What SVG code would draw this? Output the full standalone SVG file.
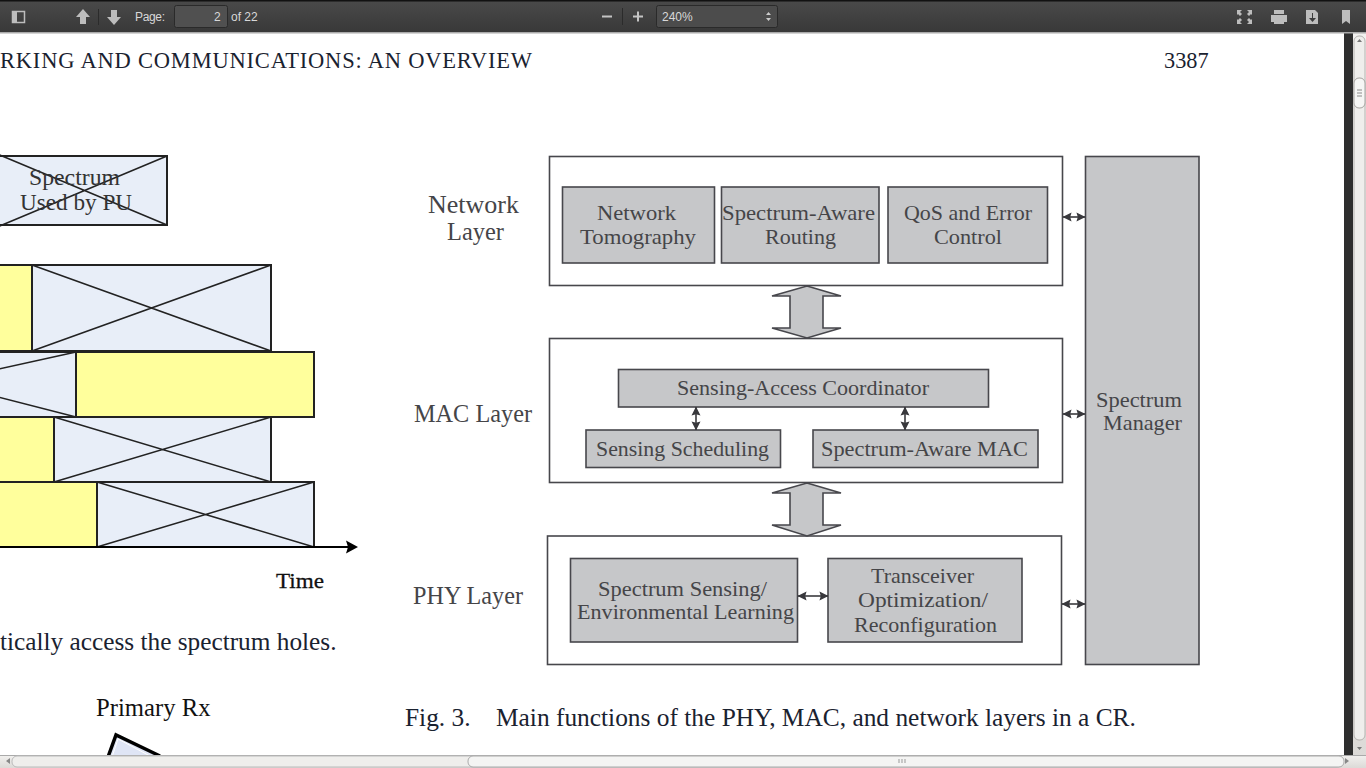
<svg xmlns="http://www.w3.org/2000/svg" width="1366" height="768" viewBox="0 0 1366 768">
<defs>
<linearGradient id="tb" x1="0" y1="0" x2="0" y2="1"><stop offset="0" stop-color="#4a4a4a"/><stop offset="1" stop-color="#383838"/></linearGradient>
<linearGradient id="sb" x1="0" y1="0" x2="0" y2="1"><stop offset="0" stop-color="#f2f1ef"/><stop offset="1" stop-color="#dcdad7"/></linearGradient>
<marker id="ah" viewBox="0 0 10 10" refX="9.5" refY="5" markerWidth="9" markerHeight="10" markerUnits="userSpaceOnUse" orient="auto-start-reverse"><path d="M0 0L10 5L0 10L1.500 5Z" fill="#38383c"/></marker>
</defs>
<style>
.ui{font-family:"Liberation Sans",Arial,sans-serif;font-size:12px;fill:#d8d8d8}
.page{font-family:"Liberation Serif","Times New Roman",serif;fill:#1a2230}
.pal{font-family:"Liberation Serif","DejaVu Serif",serif;font-size:22px;fill:#454548}
.lg{font-size:24.500px}
.layer{fill:#fff;stroke:#47474c;stroke-width:1.6}
.box{fill:#c6c7c9;stroke:#47474c;stroke-width:1.6}
.x{fill:#e8eef8;stroke:#222;stroke-width:2}
.y{fill:#ffff9c;stroke:#222;stroke-width:2}
.d{stroke:#222;stroke-width:1.5;fill:none}
.c{stroke:#3a3a3e;stroke-width:1.6;fill:none;marker-start:url(#ah);marker-end:url(#ah)}
.big{fill:#c6c7c9;stroke:#47474c;stroke-width:1.6}
.ic{fill:#bdbdbd}
</style>
<rect width="1366" height="768" fill="#fff"/>

<g id="left-figure">
<rect class="x" x="-10" y="156" width="177" height="69"/><path class="d" d="M-10 151L167 225M-10 230L167 156"/>
<text class="pal" x="29" y="185" textLength="91" lengthAdjust="spacingAndGlyphs" style="fill:#333;font-size:23px">Spectrum</text><text class="pal" x="20" y="210" textLength="112" lengthAdjust="spacingAndGlyphs" style="fill:#333;font-size:23px">Used by PU</text>
<rect class="y" x="-10" y="265" width="42" height="86"/><rect class="x" x="32" y="265" width="239" height="86"/><path class="d" d="M32 265L271 351M32 351L271 265"/>
<rect class="x" x="-10" y="352" width="86" height="65"/><path class="d" d="M-10 371L76 352M-10 395L76 417"/><rect class="y" x="76" y="352" width="238" height="65"/>
<rect class="y" x="-10" y="417" width="64" height="65"/><rect class="x" x="54" y="417" width="217" height="65"/><path class="d" d="M54 417L271 482M54 482L271 417"/>
<rect class="y" x="-10" y="482" width="107" height="65"/><rect class="x" x="97" y="482" width="217" height="65"/><path class="d" d="M97 482L314 547M97 547L314 482"/>
<path d="M-5 547H350" stroke="#000" stroke-width="2" fill="none"/><path d="M346 540.500L358 547L346 553.500L348 547Z" fill="#000"/>
<text x="276" y="588" textLength="48" lengthAdjust="spacingAndGlyphs" font-size="22" fill="#111" font-family="Liberation Serif, serif" stroke="#111" stroke-width=".3">Time</text>
<text class="page" x="0" y="650" font-size="25.300">tically access the spectrum holes.</text>
<text x="96" y="716" font-family="Liberation Serif, serif" font-size="24.700" fill="#111">Primary Rx</text>
<path d="M108 757L116 735L160 756" fill="#dfe5f5" stroke="#000" stroke-width="3.500"/>
<path d="M112 757L118 739L150 756" fill="none" stroke="#fff" stroke-width="1"/>
</g>

<text class="page" x="0" y="68" font-size="22.500" letter-spacing=".8">RKING AND COMMUNICATIONS: AN OVERVIEW</text>
<text class="page" x="1164" y="68" font-size="22.300">3387</text>

<g id="layer-labels">
<text class="pal lg" x="428" y="213" textLength="91" lengthAdjust="spacingAndGlyphs">Network</text><text class="pal lg" x="447" y="240" textLength="57" lengthAdjust="spacingAndGlyphs">Layer</text>
<text class="pal lg" x="414" y="422" textLength="118" lengthAdjust="spacingAndGlyphs">MAC Layer</text>
<text class="pal lg" x="413" y="604" textLength="110" lengthAdjust="spacingAndGlyphs">PHY Layer</text>
</g>

<g id="network-layer"><rect class="layer" x="549.500" y="156.500" width="513" height="129"/></g>
<g id="mac-layer"><rect class="layer" x="549.500" y="338.500" width="513" height="144"/></g>
<g id="phy-layer"><rect class="layer" x="547.500" y="536" width="514" height="128.500"/></g>
<g id="spectrum-manager"><rect class="box" x="1085.500" y="156.500" width="113.500" height="508"/><text class="pal" x="1096" y="407" textLength="86" lengthAdjust="spacingAndGlyphs">Spectrum</text><text class="pal" x="1103" y="430" textLength="79" lengthAdjust="spacingAndGlyphs">Manager</text></g>
<g id="network-tomography"><rect class="box" x="562.500" y="187" width="152" height="76"/><text class="pal" x="597" y="220" textLength="79" lengthAdjust="spacingAndGlyphs">Network</text><text class="pal" x="580" y="244" textLength="116" lengthAdjust="spacingAndGlyphs">Tomography</text></g>
<g id="spectrum-aware-routing"><rect class="box" x="721.500" y="187" width="157.500" height="76"/><text class="pal" x="722" y="220" textLength="153" lengthAdjust="spacingAndGlyphs">Spectrum-Aware</text><text class="pal" x="765" y="244" textLength="71" lengthAdjust="spacingAndGlyphs">Routing</text></g>
<g id="qos"><rect class="box" x="888" y="187" width="159.500" height="76"/><text class="pal" x="904" y="220" textLength="128" lengthAdjust="spacingAndGlyphs">QoS and Error</text><text class="pal" x="934" y="244" textLength="68" lengthAdjust="spacingAndGlyphs">Control</text></g>
<g id="coordinator"><rect class="box" x="618.500" y="369.500" width="370" height="37.500"/><text class="pal" x="677" y="395" textLength="252" lengthAdjust="spacingAndGlyphs">Sensing-Access Coordinator</text></g>
<g id="sensing-scheduling"><rect class="box" x="586" y="430" width="194.500" height="37.500"/><text class="pal" x="596" y="456" textLength="173" lengthAdjust="spacingAndGlyphs">Sensing Scheduling</text></g>
<g id="spectrum-aware-mac"><rect class="box" x="813" y="430" width="225" height="37.500"/><text class="pal" x="821" y="456" textLength="207" lengthAdjust="spacingAndGlyphs">Spectrum-Aware MAC</text></g>
<g id="spectrum-sensing"><rect class="box" x="570.500" y="558.500" width="227" height="83.500"/><text class="pal" x="598" y="596" textLength="169" lengthAdjust="spacingAndGlyphs">Spectrum Sensing/</text><text class="pal" x="577" y="619" textLength="217" lengthAdjust="spacingAndGlyphs">Environmental Learning</text></g>
<g id="transceiver"><rect class="box" x="828" y="558.500" width="194" height="83.500"/><text class="pal" x="871" y="583" textLength="103" lengthAdjust="spacingAndGlyphs">Transceiver</text><text class="pal" x="858" y="607" textLength="130" lengthAdjust="spacingAndGlyphs">Optimization/</text><text class="pal" x="854" y="632" textLength="143" lengthAdjust="spacingAndGlyphs">Reconfiguration</text></g>

<g id="connectors">
<path class="big" d="M807 286L841 296H823V328H841L807 338L772 328H790V296H772Z"/>
<path class="big" d="M807 483L841 493H823V525H841L807 536L772 525H790V493H772Z"/>
<path class="c" d="M1063 217H1085"/>
<path class="c" d="M1063 414H1085"/>
<path class="c" d="M1062 604H1085"/>
<path class="c" d="M696 407V430"/>
<path class="c" d="M905 407V430"/>
<path class="c" d="M798 596H828"/>
</g>

<g id="viewer-chrome">
<rect x="1344" y="33" width="22" height="735" fill="#2e2e2e"/><rect x="1353" y="33" width="13" height="735" fill="url(#sb)"/>
<rect x="1354" y="36" width="11" height="704" rx="5" fill="#efeeec" stroke="#b5b3b0"/>
<rect x="1354" y="78" width="11" height="30" rx="5" fill="#f6f6f5" stroke="#a5a3a0"/>
<path d="M1357 90h5M1357 93h5M1357 96h5" stroke="#8a8a8a"/>
<path d="M1357 42h5l-2.500-3zM1357 747h5l-2.500 3z" fill="#777"/>
<rect x="0" y="755" width="1366" height="13" fill="url(#sb)"/><rect x="0" y="755" width="1366" height="1" fill="#aaa"/>
<rect x="12" y="756" width="1330" height="11" rx="5" fill="#efeeec" stroke="#bbb"/>
<rect x="468" y="756" width="876" height="11" rx="5" fill="#f4f4f3" stroke="#aaa"/>
<path d="M10 758v6l-4-3zM1345 758v6l4-3z" fill="#888"/>
<path d="M899 759v4M902 759v4M905 759v4" stroke="#999"/>
<rect width="1366" height="33" fill="url(#tb)"/><rect width="1366" height="1.500" fill="#111"/><rect y="32" width="1366" height="1.500" fill="#aaa"/>
<rect x="12.500" y="11.500" width="12" height="11" fill="none" stroke="#bdbdbd" stroke-width="1.500"/><rect x="13" y="12" width="4" height="10" fill="#bdbdbd"/>
<path class="ic" d="M83 9L90 17H86V24H80V17H76Z"/><rect x="98" y="9" width="1" height="16" fill="#2b2b2b"/>
<path class="ic" d="M114 25L121 17H117V10H111V17H107Z"/>
<text class="ui" x="135" y="21" textLength="30">Page:</text>
<rect x="174.500" y="5.500" width="53" height="22" rx="2" fill="#505050" stroke="#2a2a2a"/>
<text class="ui" x="214" y="21">2</text><text class="ui" x="231" y="21">of 22</text>
<path d="M602 16.500h10" stroke="#c4c4c4" stroke-width="2"/><rect x="622" y="8" width="1" height="17" fill="#2b2b2b"/><path d="M633 16.500h10M638 11.500v10" stroke="#c4c4c4" stroke-width="2"/>
<rect x="656.500" y="5.500" width="121" height="22" rx="2" fill="#4c4c4c" stroke="#2a2a2a"/>
<text class="ui" x="662" y="21">240%</text><path d="M766 15l2.500-3 2.500 3zM766 18l2.500 3 2.500-3z" fill="#ccc"/>
<path class="ic" d="M1237 10h5l-2 2 2 2-2 2-2-2-1 1zM1252 10h-5l2 2-2 2 2 2 2-2 1 1zM1237 24h5l-2-2 2-2-2-2-2 2-1-1zM1252 24h-5l2-2-2-2 2-2 2 2 1-1z"/>
<path class="ic" d="M1274 10h10v4h-10zM1271 15h16v7h-3v2h-10v-2h-3z"/>
<path class="ic" d="M1306 10h9l3 3v11h-12z"/><path d="M1312 13v5h-3l3.500 4 3.500-4h-3v-5z" fill="#3c3c3c"/>
<path class="ic" d="M1342 10h8v14l-4-3-4 3z"/>
</g>

<text class="page" x="405" y="726" font-size="25.400">Fig. 3.</text>
<text class="page" x="496" y="726" font-size="25.400">Main functions of the PHY, MAC, and network layers in a CR.</text>
</svg>
